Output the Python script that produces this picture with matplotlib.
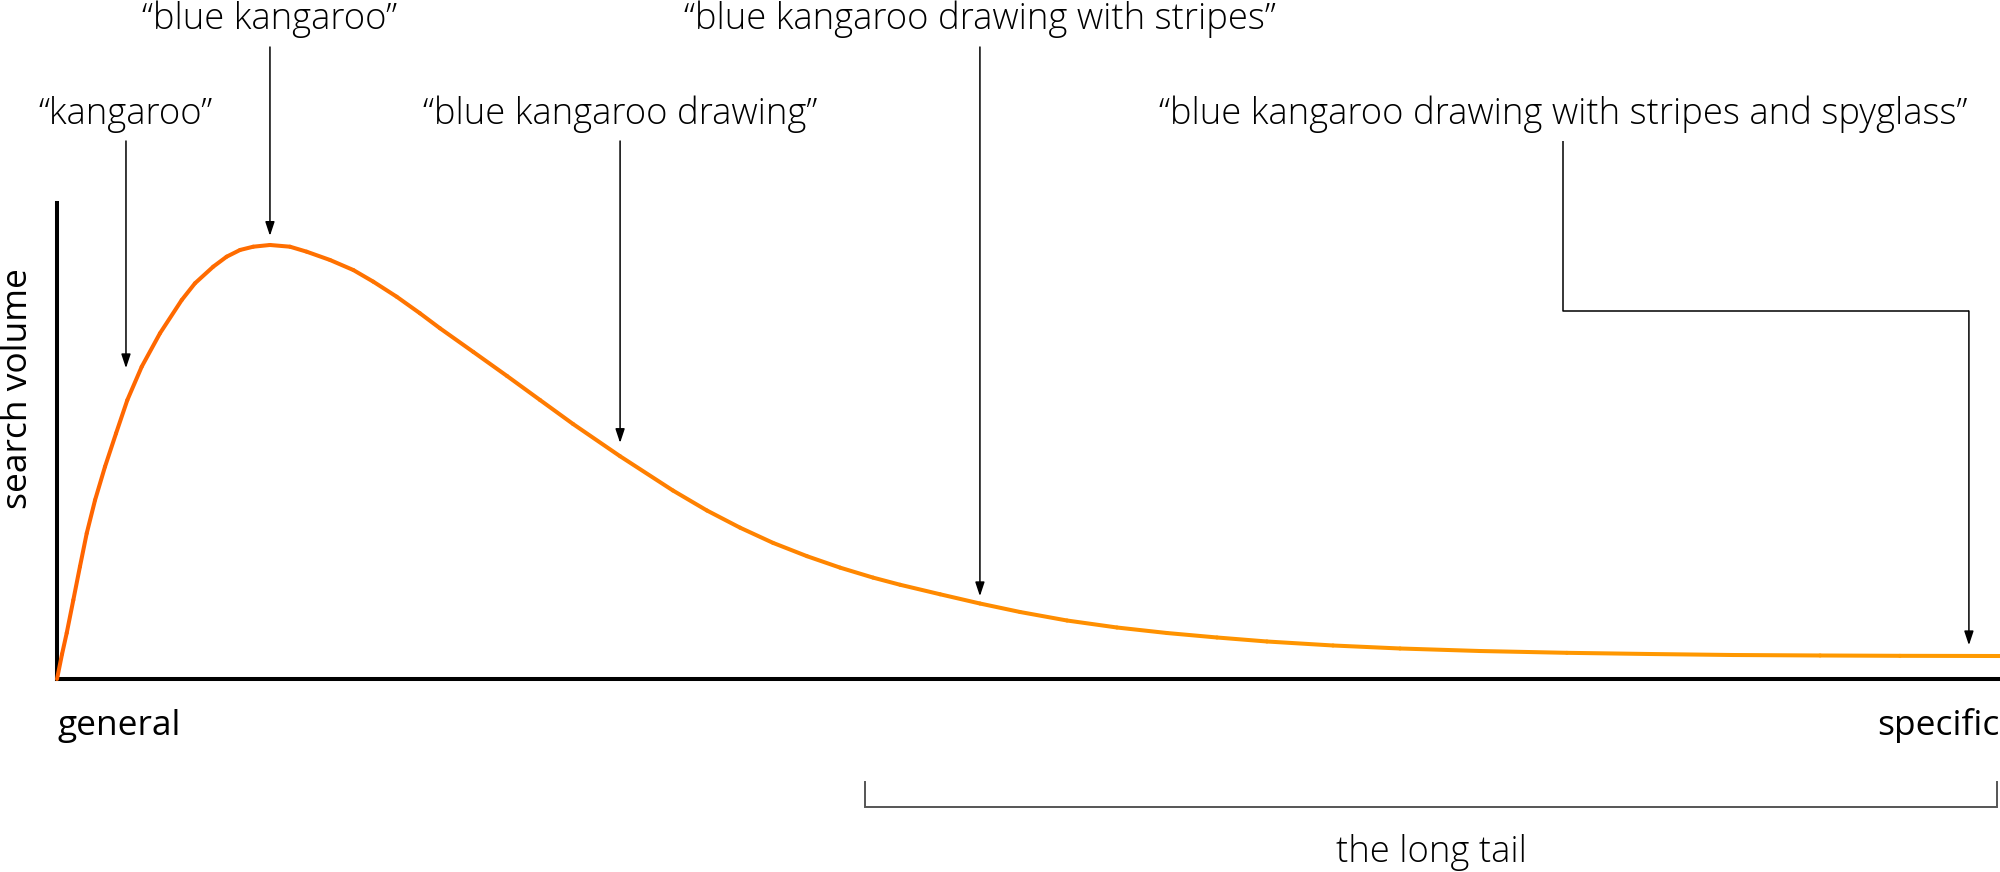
import numpy as np
import matplotlib
matplotlib.use("Agg")
import matplotlib.pyplot as plt
from matplotlib.collections import LineCollection
from matplotlib.colors import LinearSegmentedColormap
from matplotlib.transforms import IdentityTransform, blended_transform_factory

# ---------------- data ----------------
specificity = [0, 0.26, 0.50, 0.84, 1.18, 1.53, 1.96, 2.47, 3.04, 3.62,
               4.36, 5.30, 6.42, 7.10, 8.04, 8.73, 9.42, 10.10, 10.96, 11.99,
               12.85, 14.05, 15.25, 16.28, 17.48, 18.68, 19.71, 21.43, 23.16, 24.86,
               26.56, 28.98, 31.70, 33.45, 35.15, 36.85, 38.60, 40.30, 42.00, 43.39,
               45.45, 47.50, 49.56, 51.98, 54.55, 57.13, 59.70, 62.27, 65.67, 69.12,
               73.24, 77.71, 81.99, 86.26, 90.74, 94.85, 100]
search_volume = [0, 5.25, 9.66, 16.60, 23.6, 30.61, 37.61, 44.60, 51.62, 58.61,
                 65.61, 72.63, 79.62, 83.13, 86.62, 88.72, 90.13, 90.82, 91.18, 90.82,
                 89.77, 88.03, 85.92, 83.47, 80.32, 76.83, 73.68, 68.70, 63.66, 58.61,
                 53.57, 46.8, 39.6, 35.4, 31.8, 28.6, 25.8, 23.4, 21.3, 19.8,
                 17.8, 15.86, 14.08, 12.29, 10.82, 9.66, 8.72, 7.88, 7.04, 6.41,
                 5.88, 5.50, 5.25, 5.04, 4.94, 4.87, 4.83]

keywords = ["\u201ckangaroo\u201d",
            "\u201cblue kangaroo\u201d",
            "\u201cblue kangaroo drawing\u201d",
            "\u201cblue kangaroo drawing with stripes\u201d",
            "\u201cblue kangaroo drawing with stripes and spyglass\u201d"]
keyword_x = [3.55, 10.96, 28.98, 47.5, 98.4]     # where each arrow points
keyword_tip = [65.3, 93.1, 49.6, 17.4, 7.1]      # arrow tip height
label_x = [3.55, 10.96, 28.98, 47.5, 77.5]       # label centre
label_row = [1, 0, 1, 0, 1]

x_start_label = "general"
x_end_label = "specific"
y_label = "search volume"
tail_label = "the long tail"
tail_range = [41.6, 99.85]

# ---------------- figure ----------------
W, H = 2000, 872
fig = plt.figure(figsize=(W / 100, H / 100), dpi=100)
ax = fig.add_axes([57 / W, (H - 679) / H, (W - 57) / W, 476 / H])
ax.set_xlim(0, 100)
ax.set_ylim(0, 100)
ax.set_xticks([])
ax.set_yticks([])
for s in ["top", "right"]:
    ax.spines[s].set_visible(False)
for s in ["left", "bottom"]:
    ax.spines[s].set_linewidth(2.9)
    ax.spines[s].set_color("black")
ax.patch.set_alpha(0)

FONT = "Open Sans"
FS_LABEL = 26.2
FS_AXIS = 25.5

# gradient orange curve
cmap = LinearSegmentedColormap.from_list(
    "orng", [(0.0, "#ff6400"), (0.3, "#ff7f00"), (0.6, "#ff9400"), (1.0, "#ff9a00")])
xs = np.asarray(specificity, float)
ys = np.asarray(search_volume, float)
pts = np.column_stack([xs, ys]).reshape(-1, 1, 2)
segs = np.concatenate([pts[:-1], pts[1:]], axis=1)
mids = (xs[:-1] + xs[1:]) / 2 / 100
lc = LineCollection(segs, colors=cmap(mids), linewidths=2.9,
                    capstyle="round", joinstyle="round", clip_on=False, zorder=3)
ax.add_collection(lc)

# keyword labels and arrows
row_text_y = [H - 29, H - 124]      # baselines in figure pixels
row_arrow_y = [H - 47, H - 141]     # arrow start in figure pixels
elbow_y = H - 311
arrowprops = dict(arrowstyle="-|>,head_length=0.6,head_width=0.2", color="black",
                  lw=1.1, shrinkA=0, shrinkB=0, mutation_scale=14)
mix = blended_transform_factory(ax.transData, IdentityTransform())

for kw, kx, ky, lx, row in zip(keywords, keyword_x, keyword_tip, label_x, label_row):
    ax.annotate(kw, xy=(lx, row_text_y[row]), xycoords=("data", "figure pixels"),
                ha="center", va="baseline", fontsize=FS_LABEL, family=FONT,
                fontweight="light", color="black", annotation_clip=False)
    if abs(kx - lx) < 1e-9:
        ax.annotate("", xy=(kx, ky), xycoords="data",
                    xytext=(lx, row_arrow_y[row]), textcoords=("data", "figure pixels"),
                    arrowprops=arrowprops, annotation_clip=False)
    else:
        ax.plot([lx, lx, kx], [row_arrow_y[row], elbow_y, elbow_y], color="black",
                lw=1.1, transform=mix, clip_on=False, solid_capstyle="butt")
        ax.annotate("", xy=(kx, ky), xycoords="data",
                    xytext=(kx, elbow_y), textcoords=("data", "figure pixels"),
                    arrowprops=arrowprops, annotation_clip=False)

# axis end labels
ax.annotate(x_start_label, xy=(0, H - 735), xycoords=("data", "figure pixels"),
            ha="left", va="baseline", fontsize=FS_AXIS, family=FONT, annotation_clip=False)
ax.annotate(x_end_label, xy=(100, H - 735), xycoords=("data", "figure pixels"),
            ha="right", va="baseline", fontsize=FS_AXIS, family=FONT, annotation_clip=False)
fig.text(27, H - 389, y_label, transform=IdentityTransform(), rotation=90,
         rotation_mode="anchor", ha="center", va="baseline", fontsize=FS_AXIS, family=FONT)

# long-tail bracket
ax.plot([tail_range[0], tail_range[0], tail_range[1], tail_range[1]],
        [H - 782, H - 807, H - 807, H - 782], color="#555555", lw=1.4,
        transform=mix, clip_on=False, solid_joinstyle="miter")
ax.annotate(tail_label, xy=(sum(tail_range) / 2, H - 862),
            xycoords=("data", "figure pixels"), ha="center", va="baseline",
            fontsize=FS_LABEL, family=FONT, fontweight="light", annotation_clip=False)

fig.savefig("out.png", dpi=100, facecolor="white")
